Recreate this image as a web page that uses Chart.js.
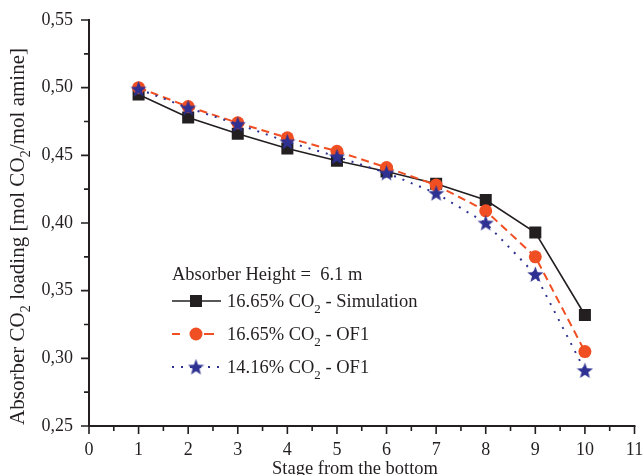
<!DOCTYPE html>
<html><head><meta charset="utf-8">
<script src="https://cdn.jsdelivr.net/npm/chart.js@4/dist/chart.umd.min.js"></script>
<style>html,body{margin:0;padding:0;background:#fff}canvas{display:block}</style>
</head><body>
<canvas id="c" width="643" height="475"></canvas>
<script>
// Absorber CO2 loading profile along the column stages
const stages = [1, 2, 3, 4, 5, 6, 7, 8, 9, 10];
const simulation1665 = [0.495, 0.478, 0.466, 0.455, 0.446, 0.438, 0.429, 0.417, 0.393, 0.332];
const of1665 = [0.500, 0.486, 0.474, 0.463, 0.453, 0.441, 0.428, 0.409, 0.375, 0.305];
const of1416 = [0.499, 0.485, 0.473, 0.460, 0.449, 0.437, 0.422, 0.400, 0.362, 0.291];
const xTickLabels = ['0', '1', '2', '3', '4', '5', '6', '7', '8', '9', '10', '11'];
const yTickLabels = ['0,25', '0,30', '0,35', '0,40', '0,45', '0,50', '0,55'];

const FONT = '"Liberation Serif", "Times New Roman", serif';
const BLACK = '#231f20';
const ORANGE = '#f04e23';
const BLUE = '#2e3192';

// filled five-pointed star marker
function makeStar(size, color) {
  const c = document.createElement('canvas');
  c.width = size; c.height = size;
  const g = c.getContext('2d');
  const cx = size / 2, cy = size / 2 + 0.6, R = size / 2, r = R * 0.42;
  g.beginPath();
  for (let i = 0; i < 10; i++) {
    const a = -Math.PI / 2 + i * Math.PI / 5;
    const rr = i % 2 ? r : R;
    g.lineTo(cx + rr * Math.cos(a), cy + rr * Math.sin(a));
  }
  g.closePath();
  g.fillStyle = color;
  g.fill();
  return c;
}
const star = makeStar(17, BLUE);

// text with subscript pieces, drawn left to right from (x, y) baseline
function richWidth(ctx, parts, size) {
  let w = 0;
  for (const p of parts) {
    ctx.font = (p.sub ? size * 0.7 : size) + 'px ' + FONT;
    w += ctx.measureText(p.t).width;
  }
  return w;
}
function drawRich(ctx, parts, x, y, size) {
  for (const p of parts) {
    ctx.font = (p.sub ? size * 0.7 : size) + 'px ' + FONT;
    ctx.fillText(p.t, x, p.sub ? y + size * 0.3 : y);
    x += ctx.measureText(p.t).width;
  }
}

const yTitle = [{t: 'Absorber CO'}, {t: '2', sub: true}, {t: ' loading [mol CO'}, {t: '2', sub: true}, {t: '/mol amine]'}];
const xTitle = [{t: 'Stage from the bottom'}];
const legendRows = [
  {parts: [{t: '16.65% CO'}, {t: '2', sub: true}, {t: ' - Simulation'}], color: BLACK, dash: [], marker: 'square', lw: 1.6},
  {parts: [{t: '16.65% CO'}, {t: '2', sub: true}, {t: ' - OF1'}], color: ORANGE, dash: [], marker: 'circle', lw: 2},
  {parts: [{t: '14.16% CO'}, {t: '2', sub: true}, {t: ' - OF1'}], color: BLUE, dash: [2, 7], marker: 'star', lw: 2}
];

const axesPlugin = {
  id: 'axesDecor',
  afterDraw(chart) {
    const ctx = chart.ctx;
    const xs = chart.scales.x, ys = chart.scales.y;
    const ca = chart.chartArea;
    ctx.save();
    // axis lines
    ctx.strokeStyle = BLACK;
    ctx.lineWidth = 2;
    ctx.beginPath();
    ctx.moveTo(ca.left, ca.top - 1);
    ctx.lineTo(ca.left, ca.bottom);
    ctx.lineTo(ca.right + 1, ca.bottom);
    ctx.stroke();
    // outward tick marks, major and minor
    ctx.lineWidth = 1.6;
    ctx.beginPath();
    for (let i = 0; i <= 22; i++) {
      const px = xs.getPixelForValue(i * 0.5);
      ctx.moveTo(px, ca.bottom);
      ctx.lineTo(px, ca.bottom + (i % 2 ? 5 : 8));
    }
    for (let i = 0; i <= 12; i++) {
      const py = ys.getPixelForValue(0.25 + i * 0.025);
      ctx.moveTo(ca.left, py);
      ctx.lineTo(ca.left - (i % 2 ? 5 : 8), py);
    }
    ctx.stroke();
    // axis titles
    ctx.fillStyle = BLACK;
    ctx.textBaseline = 'alphabetic';
    ctx.textAlign = 'left';
    const tw = richWidth(ctx, xTitle, 18.5);
    drawRich(ctx, xTitle, 355 - tw / 2, 474, 18.5);
    ctx.save();
    ctx.translate(24, 236.5);
    ctx.rotate(-Math.PI / 2);
    const yw = richWidth(ctx, yTitle, 21);
    drawRich(ctx, yTitle, -yw / 2, 0, 21);
    ctx.restore();
    // legend block
    ctx.font = '18.5px ' + FONT;
    ctx.fillText('Absorber Height =  6.1 m', 172, 280);
    const rowY = [301, 334, 367];
    legendRows.forEach((row, i) => {
      const y = rowY[i];
      ctx.strokeStyle = row.color;
      ctx.lineWidth = row.lw;
      ctx.setLineDash(row.dash);
      ctx.beginPath();
      if (row.marker === 'circle') {
        ctx.moveTo(172, y); ctx.lineTo(180, y);
        ctx.moveTo(204, y); ctx.lineTo(214, y);
      } else {
        ctx.moveTo(172, y); ctx.lineTo(221, y);
      }
      ctx.stroke();
      ctx.setLineDash([]);
      ctx.fillStyle = row.color;
      if (row.marker === 'square') {
        ctx.fillRect(190, y - 6, 12, 12);
      } else if (row.marker === 'circle') {
        ctx.beginPath(); ctx.arc(196, y, 6.5, 0, Math.PI * 2); ctx.fill();
      } else {
        ctx.drawImage(star, 196 - star.width / 2, y - star.height / 2);
      }
      ctx.fillStyle = BLACK;
      drawRich(ctx, row.parts, 227, y + 6, 18.5);
    });
    ctx.restore();
  }
};

const toPoints = vals => stages.map((s, i) => ({x: s, y: vals[i]}));

// scales keep a fixed footprint so the plot area lands where intended
function fixScale(size, key) {
  return s => {
    s[key] = size;
    s.paddingLeft = 0; s.paddingRight = 0; s.paddingTop = 0; s.paddingBottom = 0;
  };
}

new Chart(document.getElementById('c'), {
  type: 'line',
  data: {
    datasets: [
      {
        label: '16.65% CO2 - Simulation',
        data: toPoints(simulation1665),
        borderColor: BLACK, backgroundColor: BLACK,
        borderWidth: 1.6, pointStyle: 'rect', pointRadius: 8.5,
        pointBorderWidth: 0, order: 3, tension: 0
      },
      {
        label: '16.65% CO2 - OF1',
        data: toPoints(of1665),
        borderColor: ORANGE, backgroundColor: ORANGE,
        borderWidth: 2, borderDash: [8, 5], pointStyle: 'circle', pointRadius: 6.5,
        pointBorderWidth: 0, order: 2, tension: 0
      },
      {
        label: '14.16% CO2 - OF1',
        data: toPoints(of1416),
        borderColor: BLUE, backgroundColor: BLUE,
        borderWidth: 2, borderDash: [2, 7], pointStyle: star, pointRadius: 8,
        pointBorderWidth: 0, order: 1, tension: 0
      }
    ]
  },
  options: {
    responsive: false,
    animation: false,
    devicePixelRatio: 1,
    layout: {padding: {left: 0, top: 20, right: 8, bottom: 0}},
    plugins: {legend: {display: false}, tooltip: {enabled: false}},
    scales: {
      x: {
        type: 'linear', min: 0, max: 11,
        grid: {display: false, drawTicks: false},
        border: {display: false},
        afterFit: fixScale(49, 'height'),
        ticks: {
          stepSize: 1, padding: 13, maxRotation: 0, autoSkip: false,
          color: BLACK, font: {family: FONT, size: 18},
          callback: v => xTickLabels[Math.round(v)]
        }
      },
      y: {
        type: 'linear', min: 0.25, max: 0.55,
        grid: {display: false, drawTicks: false},
        border: {display: false},
        afterFit: fixScale(89, 'width'),
        ticks: {
          stepSize: 0.05, padding: 16,
          color: BLACK, font: {family: FONT, size: 18},
          callback: v => yTickLabels[Math.round((v - 0.25) / 0.05)]
        }
      }
    }
  },
  plugins: [axesPlugin]
});
</script>
</body></html>
